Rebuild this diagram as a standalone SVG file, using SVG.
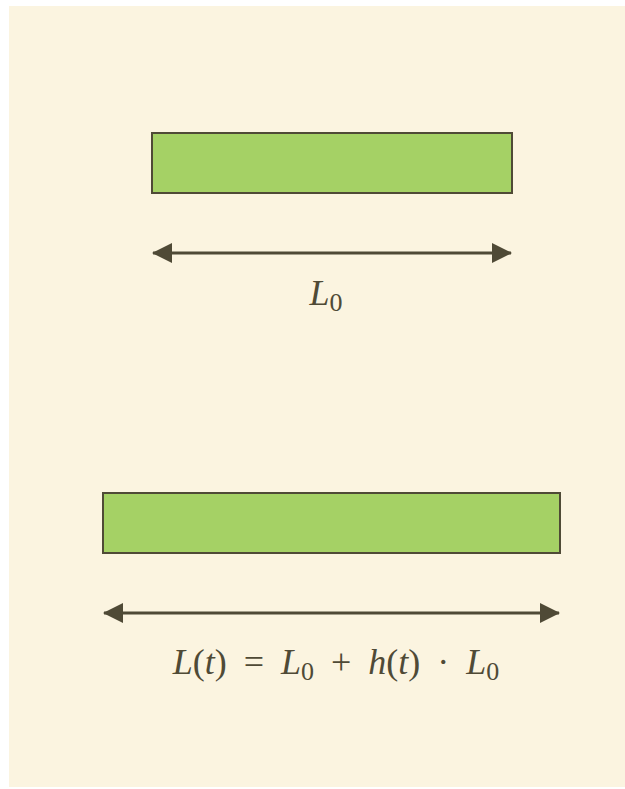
<svg xmlns="http://www.w3.org/2000/svg" width="625" height="789" viewBox="0 0 625 789">
<style>
.bar{fill:#a5d165;stroke:#4f4a36;stroke-width:2}
.conn{stroke:#4f4a36;stroke-width:3;fill:none}
.lbl{font-family:"Liberation Serif","DejaVu Serif",serif;font-size:36px;fill:#4f4a36}
.it{font-style:italic}
.sub{font-size:26px}
</style>
<defs>
<marker id="ah" viewBox="0 0 20 20" refX="19" refY="10" markerWidth="20" markerHeight="20" markerUnits="userSpaceOnUse" orient="auto-start-reverse">
<path d="M0,0 L20,10 L0,20 Z" fill="#4f4a36"/>
</marker>
</defs>
<rect x="9" y="6" width="616" height="781" fill="#fbf4e0"/>
<g id="bar-initial">
<rect class="bar" x="152" y="133" width="360" height="60"/>
</g>
<g id="bar-stretched">
<rect class="bar" x="103" y="493" width="457" height="60"/>
</g>
<g id="connectors">
<line class="conn" x1="153" y1="253" x2="511" y2="253" marker-start="url(#ah)" marker-end="url(#ah)"/>
<line class="conn" x1="104" y1="613" x2="559" y2="613" marker-start="url(#ah)" marker-end="url(#ah)"/>
</g>
<g id="label-L0">
<text class="lbl" x="326" y="305" text-anchor="middle"><tspan class="it">L</tspan><tspan class="sub" dy="6">0</tspan></text>
</g>
<g id="label-Lt">
<text class="lbl" x="336" y="674" text-anchor="middle" word-spacing="8"><tspan class="it">L</tspan>(<tspan class="it">t</tspan>) = <tspan class="it">L</tspan><tspan class="sub" dy="6">0</tspan><tspan dy="-6"> + </tspan><tspan class="it">h</tspan>(<tspan class="it">t</tspan>) · <tspan class="it">L</tspan><tspan class="sub" dy="6">0</tspan></text>
</g>
</svg>
